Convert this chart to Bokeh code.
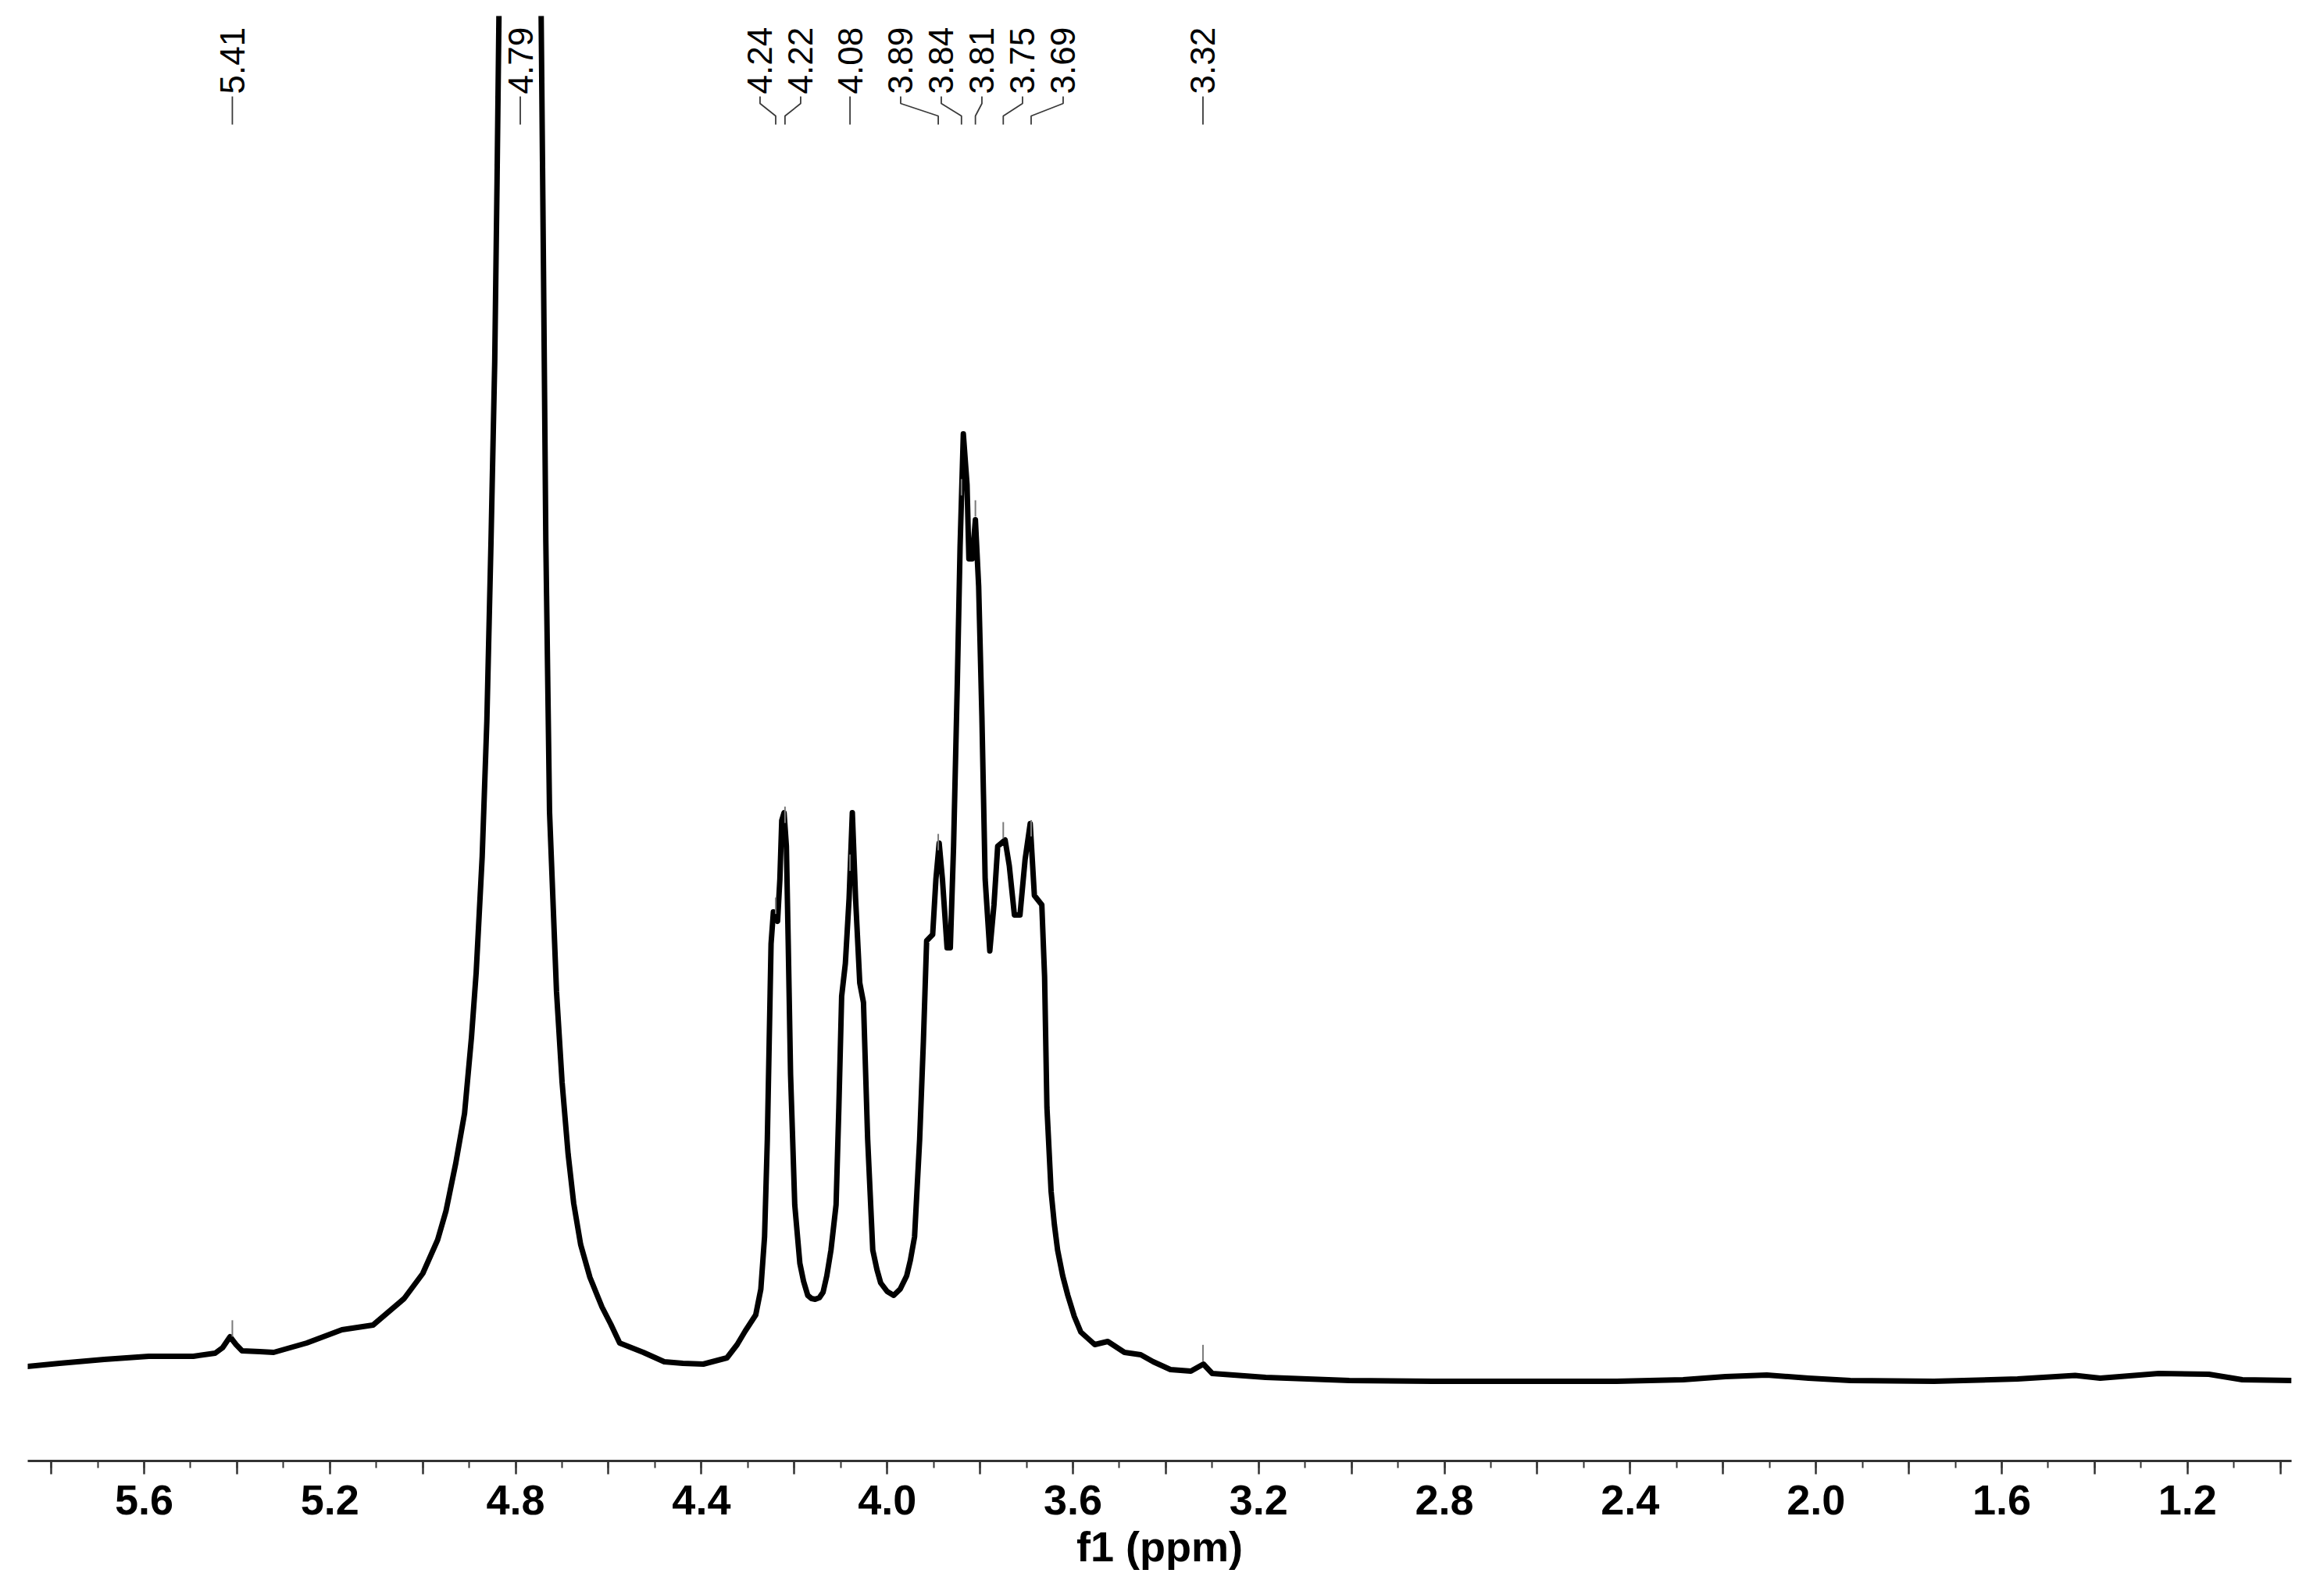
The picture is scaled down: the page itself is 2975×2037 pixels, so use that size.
import numpy as np
from bokeh.plotting import figure
from bokeh.models import Range1d, LinearAxis, FixedTicker, CustomJSTickFormatter
from bokeh.core.properties import value
from bokeh.embed import file_html
from bokeh.resources import INLINE

# ---------------- data ----------------
ppm = [5.852, 5.782, 5.686, 5.590, 5.494, 5.447, 5.431, 5.415, 5.402, 5.389, 5.351, 5.321,
       5.250, 5.174, 5.107, 5.040, 5.000, 4.968, 4.950, 4.929, 4.910, 4.895, 4.885, 4.872,
       4.862, 4.853, 4.845, 4.840, 4.836, 4.830, 4.815, 4.790, 4.765, 4.750, 4.745, 4.740,
       4.735, 4.727, 4.712, 4.700, 4.687, 4.675, 4.660, 4.640, 4.614, 4.595, 4.576, 4.525,
       4.480, 4.440, 4.396, 4.345, 4.323, 4.306, 4.283, 4.272, 4.264, 4.258, 4.254, 4.250,
       4.245, 4.236, 4.231, 4.227, 4.222, 4.217, 4.213, 4.208, 4.199, 4.188, 4.180, 4.171,
       4.163, 4.155, 4.146, 4.138, 4.130, 4.121, 4.110, 4.104, 4.098, 4.090, 4.082, 4.075,
       4.068, 4.059, 4.051, 4.042, 4.031, 4.022, 4.014, 4.000, 3.986, 3.972, 3.958, 3.950,
       3.941, 3.930, 3.922, 3.915, 3.902, 3.895, 3.888, 3.881, 3.871, 3.864, 3.857, 3.849,
       3.843, 3.836, 3.828, 3.824, 3.817, 3.810, 3.803, 3.796, 3.789, 3.779, 3.770, 3.762,
       3.746, 3.737, 3.726, 3.714, 3.703, 3.692, 3.683, 3.667, 3.661, 3.656, 3.647, 3.640,
       3.633, 3.622, 3.611, 3.597, 3.583, 3.553, 3.525, 3.489, 3.454, 3.427, 3.390, 3.346,
       3.319, 3.300, 3.185, 3.005, 2.825, 2.645, 2.429, 2.286, 2.195, 2.106, 2.016, 1.926,
       1.746, 1.566, 1.442, 1.388, 1.262, 1.154, 1.082, 0.976]
intensity = [16, 20, 25, 29, 29, 33, 40, 54, 44, 36, 35, 34,
             46, 63, 69, 103, 135, 178, 215, 276, 340, 438, 520, 669,
             842, 1073, 1303, 1534, 1742, 2600, 5000, 8000, 5000, 2600, 1742, 1419,
             1073, 726, 496, 380, 288, 225, 172, 130, 92, 70, 46, 34,
             22, 20, 19, 27, 44, 61, 82, 115, 182, 307, 432, 557,
             598, 586, 640, 715, 725, 682, 557, 390, 223, 148, 125, 107,
             103, 102, 104, 111, 132, 165, 223, 348, 490, 532, 615, 725,
             615, 507, 482, 307, 165, 140, 123, 112, 107, 115, 132, 152,
             182, 307, 432, 561, 569, 640, 686, 640, 552, 552, 682, 890,
             1065, 1210, 1145, 1050, 1050, 1100, 1015, 848, 640, 548, 607, 682,
             690, 657, 594, 594, 665, 711, 619, 607, 515, 348, 240, 198,
             165, 132, 107, 80, 60, 44, 48, 34, 31, 22, 12, 10,
             19, 7, 2, -2, -3, -3, -3, -1, 3, 5, 1, -2,
             -3, 0, 4.5, 1, 7, 6, -1, -2]
peak_ppm = [5.41, 4.79, 4.24, 4.22, 4.08, 3.89, 3.84, 3.81, 3.75, 3.69, 3.32]
peak_labels = [f"{v:.2f}" for v in peak_ppm]
major_ticks = [round(5.8 - 0.2 * i, 1) for i in range(25)]
minor_ticks = [round(5.8 - 0.1 * i, 1) for i in range(49)]
axis_title = "f1 (ppm)"

# ---------------- layout ----------------
X_START, X_END = 5.8506, 0.9759
Y_START, Y_END = -105, 1745
FRAME_W = 2898
PX_PER_PPM = FRAME_W / (X_START - X_END)
LABEL_GAP_PX = 52
TEXT_Y = 1645
CONN_Y = [1642, 1633, 1617, 1606]
FONT = "Liberation Sans"

p = figure(width=2975, height=2037,
           x_range=Range1d(X_START, X_END), y_range=Range1d(Y_START, Y_END),
           x_axis_location=None, y_axis_location=None,
           output_backend="svg", toolbar_location=None,
           min_border_left=35, min_border_right=42, min_border_top=20, min_border_bottom=167)
p.outline_line_color = None
p.grid.grid_line_color = None
p.background_fill_color = "white"
p.border_fill_color = "white"

# spectrum
p.line(ppm, intensity, line_width=7, line_color="black", line_join="round")

# peak markers above the curve
xp = np.array(ppm[::-1])
yp = np.array(intensity[::-1])
peak_h = np.interp(peak_ppm, xp, yp)
p.segment(x0=peak_ppm, y0=list(peak_h + 4), x1=peak_ppm, y1=list(peak_h + 25),
          line_color="#7a7a7a", line_width=2)

# label spreading (screen pixels)
targets = [(X_START - v) * PX_PER_PPM for v in peak_ppm]


def place(block):
    s = np.mean([targets[j] - k * LABEL_GAP_PX for k, j in enumerate(block)])
    return [s + k * LABEL_GAP_PX for k in range(len(block))]


blocks = []
for i in range(len(targets)):
    blocks.append([i])
    while len(blocks) > 1:
        a, b = blocks[-2], blocks[-1]
        if place(b)[0] - place(a)[-1] < LABEL_GAP_PX:
            blocks[-2:] = [a + b]
        else:
            break
label_px = []
for b in blocks:
    label_px += place(b)
label_x = [X_START - v / PX_PER_PPM for v in label_px]

xs, ys = [], []
for lx, px_ in zip(label_x, peak_ppm):
    xs.append([lx, lx, px_, px_])
    ys.append(CONN_Y)
p.multi_line(xs=xs, ys=ys, line_color="#3a3a3a", line_width=1.8)

p.text(x=label_x, y=[TEXT_Y] * len(label_x), text=peak_labels, angle=np.pi / 2,
       text_align="left", text_baseline="middle", text_color="black",
       text_font=value(FONT), text_font_size=value("44px"))

# axis
ax = LinearAxis(ticker=FixedTicker(ticks=major_ticks, minor_ticks=minor_ticks),
                formatter=CustomJSTickFormatter(code="""
                    const r = Math.round(tick * 10);
                    return (r % 4 === 0) ? (r / 10).toFixed(1) : "";
                """))
ax.axis_label = axis_title
ax.axis_line_width = 3
ax.axis_line_color = "#333333"
ax.major_tick_line_width = 2.5
ax.major_tick_line_color = "#333333"
ax.minor_tick_line_width = 2
ax.minor_tick_line_color = "#333333"
ax.major_tick_out = 17
ax.major_tick_in = 0
ax.minor_tick_out = 9
ax.minor_tick_in = 0
ax.major_label_standoff = 14
ax.major_label_text_font = FONT
ax.major_label_text_font_size = "54px"
ax.major_label_text_font_style = "bold"
ax.major_label_text_color = "black"
ax.axis_label_standoff = 8
ax.axis_label_text_font = FONT
ax.axis_label_text_font_size = "54px"
ax.axis_label_text_font_style = "bold"
ax.axis_label_text_color = "black"
p.add_layout(ax, "below")

open("out.html", "w").write(file_html(p, INLINE))
